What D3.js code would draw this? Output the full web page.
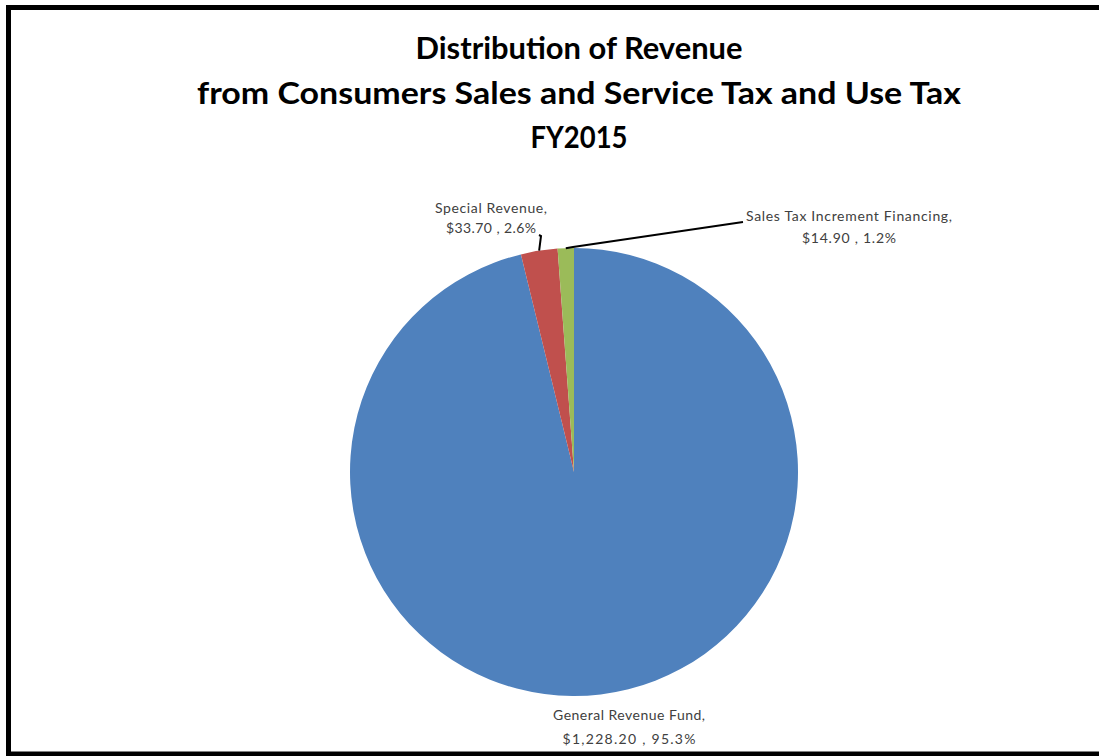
<!DOCTYPE html>
<html>
<head>
<meta charset="utf-8">
<script src="https://cdn.jsdelivr.net/npm/d3@7"></script>
<style>
  html, body { margin: 0; padding: 0; background: #fff; }
  svg { display: block; }
</style>
</head>
<body>
<svg id="chart" width="1099" height="756"></svg>
<script>
// Revenue distribution, FY2015 (millions of dollars)
const categories = ["General Revenue Fund", "Special Revenue", "Sales Tax Increment Financing"];
const amounts = [1228.20, 33.70, 14.90];
const amountLabels = ["$1,228.20", "$33.70", "$14.90"];
const percentLabels = ["95.3%", "2.6%", "1.2%"];
const colors = ["#4F81BD", "#C0504D", "#9BBB59"];
const titleLines = [
  "Distribution of Revenue",
  "from Consumers Sales and Service Tax and Use Tax",
  "FY2015"
];

const svg = d3.select("#chart");
const W = 1099, H = 756;

// outer frame
svg.append("rect")
  .attr("x", 8.5).attr("y", 7.5)
  .attr("width", W + 10).attr("height", 746.5)
  .attr("fill", "none").attr("stroke", "#000").attr("stroke-width", 5);

// title
const titleX = 579;
const titleBaselines = [59, 103.5, 148];
const titleWidths = [327, 764, 97];
svg.append("g").selectAll("text")
  .data(titleLines)
  .join("text")
  .attr("x", titleX)
  .attr("y", (d, i) => titleBaselines[i])
  .attr("text-anchor", "middle")
  .attr("font-family", "Lato, 'Open Sans', sans-serif")
  .attr("font-weight", "bold")
  .attr("font-size", 30)
  .attr("fill", "#000")
  .attr("textLength", (d, i) => titleWidths[i])
  .attr("lengthAdjust", "spacingAndGlyphs")
  .text(d => d);

// pie
const cx = 574, cy = 472, r = 224;
const slices = d3.pie().sort(null).value(d => d)(amounts);
const arc = d3.arc().innerRadius(0).outerRadius(r);

const g = svg.append("g").attr("transform", `translate(${cx},${cy})`);
g.selectAll("path")
  .data(slices)
  .join("path")
  .attr("d", arc)
  .attr("fill", (d, i) => colors[i]);

// data labels
const labelFont = "Lato, 'Open Sans', sans-serif";
const labelSpecs = [
  { x: 629, y1: 720, y2: 744, w1: 152, w2: 133, leader: null },
  { x: 491, y1: 213, y2: 233, w1: 112, w2: 90, leader: [[541, 236], [539, 235]] },
  { x: 849, y1: 221, y2: 243, w1: 206, w2: 94, leader: [[573, 247], [743, 222]] }
];

const labels = svg.append("g");
slices.forEach((s, i) => {
  const spec = labelSpecs[i];
  const t = labels.append("text")
    .attr("text-anchor", "middle")
    .attr("font-family", labelFont)
    .attr("font-size", 14)
    .attr("fill", "#404040");
  t.append("tspan").attr("x", spec.x).attr("y", spec.y1)
    .attr("textLength", spec.w1).attr("lengthAdjust", "spacing")
    .text(categories[i] + ",");
  t.append("tspan").attr("x", spec.x).attr("y", spec.y2)
    .attr("textLength", spec.w2).attr("lengthAdjust", "spacing")
    .text(amountLabels[i] + " , " + percentLabels[i]);

  if (spec.leader) {
    const mid = (s.startAngle + s.endAngle) / 2;
    const start = [cx + r * Math.sin(mid), cy - r * Math.cos(mid)];
    labels.append("path")
      .attr("d", d3.line()([start, ...spec.leader]))
      .attr("fill", "none")
      .attr("stroke", "#000")
      .attr("stroke-width", 2);
  }
});
</script>
</body>
</html>
